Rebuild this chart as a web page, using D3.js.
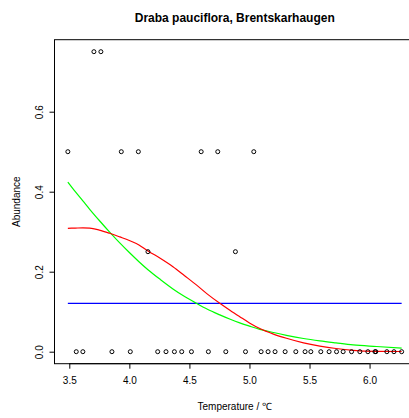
<!DOCTYPE html>
<html>
<head>
<meta charset="utf-8">
<script src="https://cdn.jsdelivr.net/npm/d3@7"></script>
<style>
  body { margin: 0; background: #fff; }
  text { font-family: "Liberation Sans", Arial, sans-serif; fill: #000; }
</style>
</head>
<body>
<div id="chart"></div>
<script>
// observed plots
const temperature = [
  3.558, 3.613, 3.855, 4.008, 4.236, 4.305, 4.375, 4.436, 4.517, 4.658, 4.803,
  4.967, 5.097, 5.155, 5.213, 5.297, 5.386, 5.463, 5.511, 5.594, 5.663, 5.725,
  5.780, 5.850, 5.919, 5.986, 6.045, 6.052, 6.144, 6.203, 6.267,
  3.488, 3.933, 4.075, 4.598, 4.736, 5.036,
  3.705, 3.763,
  4.155, 4.883
];
const abundance = [
  0, 0, 0, 0, 0, 0, 0, 0, 0, 0, 0,
  0, 0, 0, 0, 0, 0, 0, 0, 0, 0, 0,
  0, 0, 0, 0, 0, 0, 0, 0, 0,
  0.5, 0.5, 0.5, 0.5, 0.5, 0.5,
  0.75, 0.75,
  0.25, 0.25
];

// fitted curves
const curveTemp = [3.488, 3.55, 3.613, 3.67, 3.75, 3.836, 3.92, 4.0, 4.08, 4.155,
  4.26, 4.363, 4.46, 4.558, 4.65, 4.753, 4.84, 4.919, 5.0, 5.086, 5.2, 5.308,
  5.45, 5.586, 5.72, 5.863, 6.058, 6.267];
const redFit = [0.3085, 0.309, 0.3095, 0.309, 0.304, 0.296, 0.287, 0.278, 0.267, 0.252,
  0.233, 0.2125, 0.19, 0.167, 0.144, 0.121, 0.103, 0.0875, 0.072, 0.058, 0.044, 0.0335,
  0.022, 0.014, 0.008, 0.0035, 0.001, 0.0005];
const greenFit = [0.424, 0.400, 0.377, 0.356, 0.328, 0.299, 0.272, 0.248, 0.225, 0.205,
  0.180, 0.157, 0.138, 0.121, 0.106, 0.092, 0.081, 0.072, 0.064, 0.056, 0.048, 0.041,
  0.033, 0.027, 0.022, 0.017, 0.013, 0.009];
const meanTemp = [3.488, 6.267];
const meanFit = [0.121, 0.121];

const xTicks = [3.5, 4.0, 4.5, 5.0, 5.5, 6.0];
const yTicks = [0.0, 0.2, 0.4, 0.6];

const W = 409, H = 418;
const plot = {left: 54.5, right: 415, top: 39.7, bottom: 363.7};

const xExt = d3.extent(temperature);
const xPad = (xExt[1] - xExt[0]) * 0.04;
const yExt = d3.extent(abundance);
const yPad = (yExt[1] - yExt[0]) * 0.04;

const x = d3.scaleLinear()
  .domain([xExt[0] - xPad, xExt[1] + xPad])
  .range([plot.left, plot.right]);
const y = d3.scaleLinear()
  .domain([yExt[0] - yPad, yExt[1] + yPad])
  .range([plot.bottom, plot.top]);

const svg = d3.select("#chart").append("svg")
  .attr("width", W)
  .attr("height", H);

// box
svg.append("rect")
  .attr("x", plot.left)
  .attr("y", plot.top)
  .attr("width", plot.right - plot.left)
  .attr("height", plot.bottom - plot.top)
  .attr("fill", "none")
  .attr("stroke", "#000")
  .attr("stroke-width", 1);

// x axis
const xAxis = svg.append("g")
  .attr("transform", "translate(0," + plot.bottom + ")")
  .call(d3.axisBottom(x).tickValues(xTicks).tickSize(5).tickPadding(8)
    .tickFormat(d3.format(".1f")));
xAxis.select(".domain")
  .attr("d", "M" + x(xTicks[0]) + ",0H" + x(xTicks[xTicks.length - 1]));
xAxis.selectAll("text")
  .style("font-size", "10px")
  .style("font-family", "'Liberation Sans', Arial, sans-serif")
  .attr("dy", "0.71em");

// y axis
const yAxis = svg.append("g")
  .attr("transform", "translate(" + plot.left + ",0)")
  .call(d3.axisLeft(y).tickValues(yTicks).tickSize(5)
    .tickFormat(d3.format(".1f")));
yAxis.select(".domain")
  .attr("d", "M0," + y(yTicks[0]) + "V" + y(yTicks[yTicks.length - 1]));
yAxis.selectAll("text")
  .style("font-size", "10px")
  .style("font-family", "'Liberation Sans', Arial, sans-serif")
  .attr("x", null)
  .attr("dy", null)
  .attr("text-anchor", "middle")
  .attr("transform", "translate(-11.5,0) rotate(-90)");

// fitted lines
const line = d3.line()
  .x(d => x(d[0]))
  .y(d => y(d[1]))
  .curve(d3.curveMonotoneX);

svg.append("path")
  .datum(d3.zip(meanTemp, meanFit))
  .attr("d", line)
  .attr("fill", "none")
  .attr("stroke", "#0000ff")
  .attr("stroke-width", 1.2);

svg.append("path")
  .datum(d3.zip(curveTemp, greenFit))
  .attr("d", line)
  .attr("fill", "none")
  .attr("stroke", "#00ff00")
  .attr("stroke-width", 1.2);

svg.append("path")
  .datum(d3.zip(curveTemp, redFit))
  .attr("d", line)
  .attr("fill", "none")
  .attr("stroke", "#ff0000")
  .attr("stroke-width", 1.2);

// points
svg.append("g")
  .selectAll("circle")
  .data(d3.zip(temperature, abundance))
  .join("circle")
  .attr("cx", d => x(d[0]))
  .attr("cy", d => y(d[1]))
  .attr("r", 2)
  .attr("fill", "none")
  .attr("stroke", "#000")
  .attr("stroke-width", 1);

// titles
const cx = (plot.left + plot.right) / 2;
svg.append("text")
  .attr("x", cx)
  .attr("y", 21.7)
  .attr("text-anchor", "middle")
  .style("font-size", "12px")
  .style("font-weight", "bold")
  .text("Draba pauciflora, Brentskarhaugen");

svg.append("text")
  .attr("x", cx)
  .attr("y", 410)
  .attr("text-anchor", "middle")
  .style("font-size", "10px")
  .text("Temperature / \u2103");

svg.append("text")
  .attr("transform", "translate(19.5," + ((plot.top + plot.bottom) / 2) + ") rotate(-90)")
  .attr("text-anchor", "middle")
  .style("font-size", "10px")
  .text("Abundance");
</script>
</body>
</html>
